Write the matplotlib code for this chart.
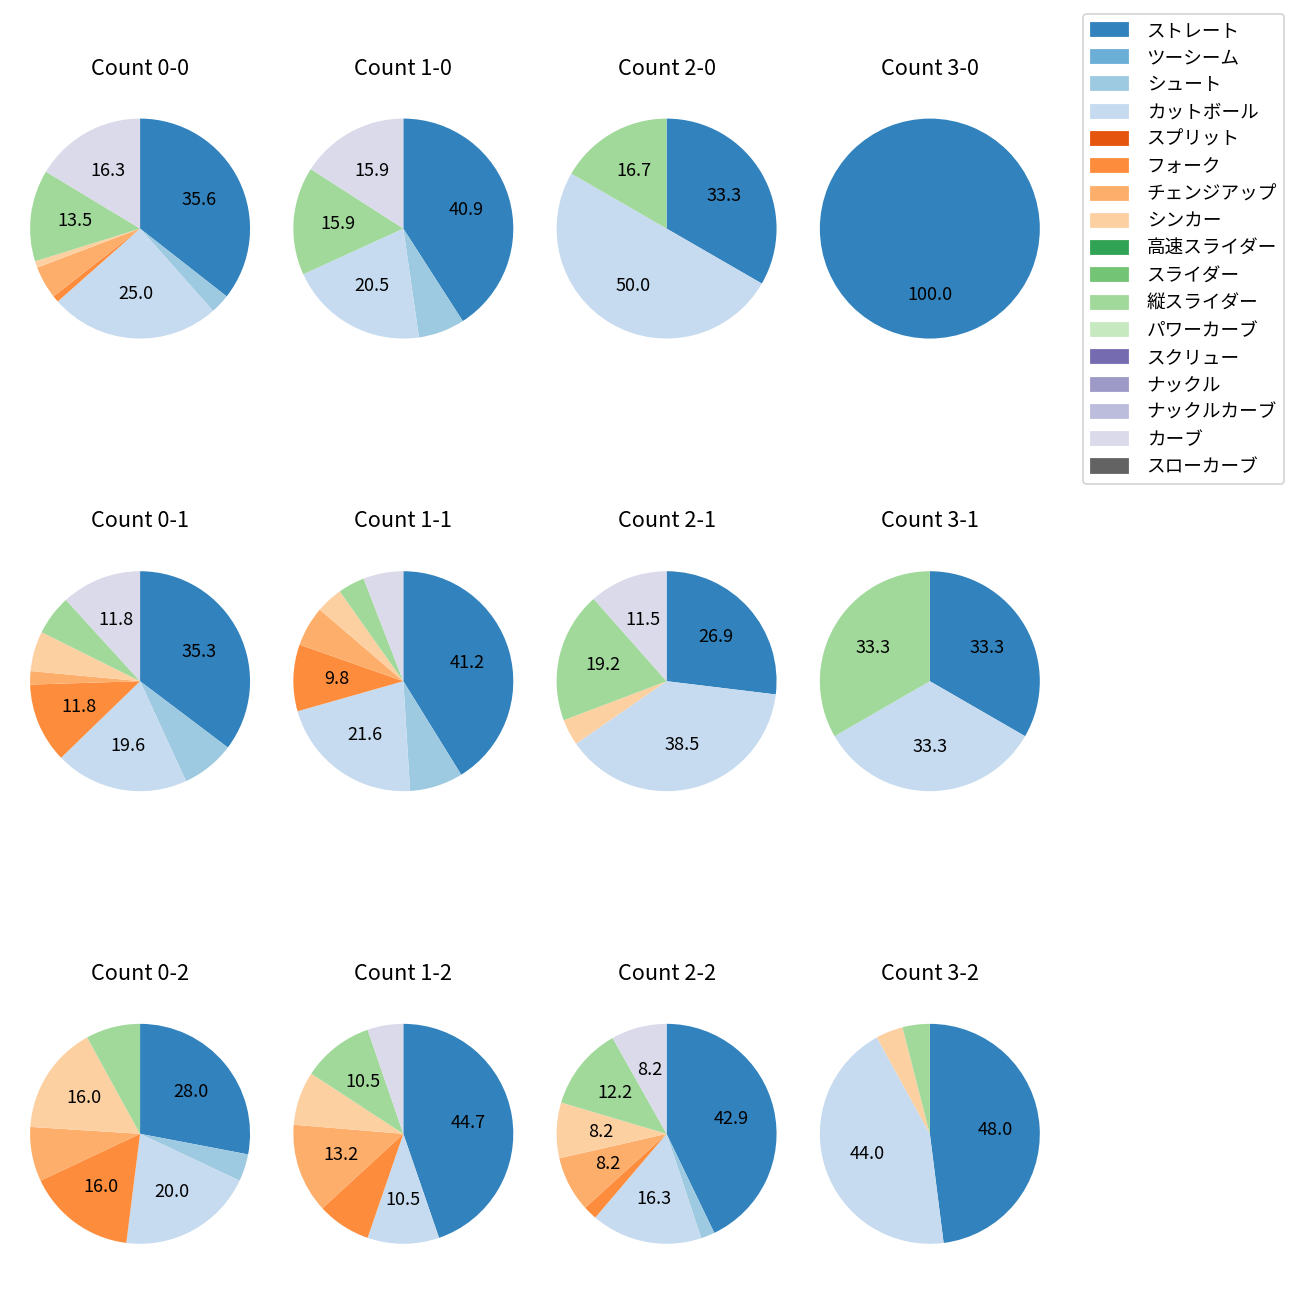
import matplotlib
matplotlib.use("Agg")
import matplotlib.pyplot as plt
from matplotlib.patches import Patch

plt.rcParams['font.family'] = ['Noto Sans CJK JP', 'DejaVu Sans']

pitch_types = ["ストレート", "ツーシーム", "シュート", "カットボール", "スプリット",
               "フォーク", "チェンジアップ", "シンカー", "高速スライダー", "スライダー",
               "縦スライダー", "パワーカーブ", "スクリュー", "ナックル", "ナックルカーブ",
               "カーブ", "スローカーブ"]

count_labels = ["0-0", "1-0", "2-0", "3-0",
                "0-1", "1-1", "2-1", "3-1",
                "0-2", "1-2", "2-2", "3-2"]

# pitch counts per situation, in pitch_types order
c_0_0 = [37, 0, 3, 26, 0, 1, 5, 1, 0, 0, 14, 0, 0, 0, 0, 17, 0]
c_1_0 = [18, 0, 3, 9, 0, 0, 0, 0, 0, 0, 7, 0, 0, 0, 0, 7, 0]
c_2_0 = [2, 0, 0, 3, 0, 0, 0, 0, 0, 0, 1, 0, 0, 0, 0, 0, 0]
c_3_0 = [1, 0, 0, 0, 0, 0, 0, 0, 0, 0, 0, 0, 0, 0, 0, 0, 0]
c_0_1 = [18, 0, 4, 10, 0, 6, 1, 3, 0, 0, 3, 0, 0, 0, 0, 6, 0]
c_1_1 = [21, 0, 4, 11, 0, 5, 3, 2, 0, 0, 2, 0, 0, 0, 0, 3, 0]
c_2_1 = [7, 0, 0, 10, 0, 0, 0, 1, 0, 0, 5, 0, 0, 0, 0, 3, 0]
c_3_1 = [1, 0, 0, 1, 0, 0, 0, 0, 0, 0, 1, 0, 0, 0, 0, 0, 0]
c_0_2 = [7, 0, 1, 5, 0, 4, 2, 4, 0, 0, 2, 0, 0, 0, 0, 0, 0]
c_1_2 = [17, 0, 0, 4, 0, 3, 5, 3, 0, 0, 4, 0, 0, 0, 0, 2, 0]
c_2_2 = [21, 0, 1, 8, 0, 1, 4, 4, 0, 0, 6, 0, 0, 0, 0, 4, 0]
c_3_2 = [12, 0, 0, 11, 0, 0, 0, 1, 0, 0, 1, 0, 0, 0, 0, 0, 0]

all_counts = [c_0_0, c_1_0, c_2_0, c_3_0,
              c_0_1, c_1_1, c_2_1, c_3_1,
              c_0_2, c_1_2, c_2_2, c_3_2]

colors = plt.get_cmap("tab20c").colors[:len(pitch_types)]


def pct_label(p):
    return f"{p:.1f}" if p > 8.05 else ""


fig, axes = plt.subplots(3, 4, figsize=(10, 10), dpi=130)
fig.subplots_adjust(left=0.002, right=0.821, bottom=0.022, top=0.93,
                    wspace=-0.0425, hspace=0.645)

for ax, lab, vals in zip(axes.flat, count_labels, all_counts):
    v = [x for x in vals if x > 0]
    c = [colors[i] for i, x in enumerate(vals) if x > 0]
    ax.pie(v, colors=c, startangle=90, counterclock=False, autopct=pct_label)
    ax.set_title(f"Count {lab}", pad=9)

handles = [Patch(color=colors[i], label=name) for i, name in enumerate(pitch_types)]
fig.legend(handles=handles, loc="upper right", bbox_to_anchor=(0.988, 0.989),
           borderaxespad=0, fontsize=10.3, handletextpad=1.0)

fig.savefig("out.png", dpi=130)
